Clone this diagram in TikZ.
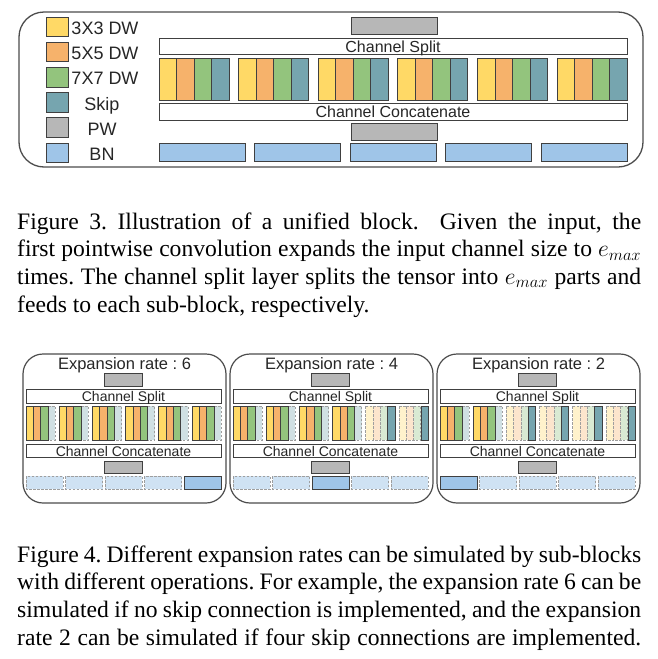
\documentclass[tikz,border=0pt]{standalone}
\usepackage{fix-cm}
\usepackage{fontspec}
\setmainfont{Liberation Serif}
\newfontfamily\arialfont{Liberation Sans}
\usetikzlibrary{positioning}
\frenchspacing

\definecolor{c3}{HTML}{FFD966}
\definecolor{c5}{HTML}{F6B26B}
\definecolor{c7}{HTML}{93C47D}
\definecolor{cskip}{HTML}{76A5AF}
\definecolor{cpw}{HTML}{B7B7B7}
\definecolor{cbn}{HTML}{9FC5E8}
\definecolor{g3}{HTML}{FFF2CC}
\definecolor{g5}{HTML}{FCE5CD}
\definecolor{g7}{HTML}{D9EAD3}
\definecolor{gskip}{HTML}{D0E0E3}
\definecolor{gbn}{HTML}{CFE2F3}
\definecolor{inkgray}{HTML}{262626}

\begin{document}
\begin{tikzpicture}
		[x=1pt,y=-1pt,
		cell/.style={draw=black!75,line width=0.8pt},
		ghost/.style={draw=black!38,dash pattern=on 2.5pt off 1.5pt,line width=0.9pt},
		frame/.style={draw=black!70,line width=1.3pt},
		legtext/.style={inner sep=0pt,text=inkgray,font=\arialfont\fontsize{18}{18}\selectfont},
		bartext/.style={inner sep=0pt,text=inkgray,font=\arialfont\fontsize{16}{16}\selectfont},
		titletext/.style={inner sep=0pt,text=inkgray,font=\arialfont\fontsize{16.5}{16.5}\selectfont},
		smalltext/.style={inner sep=0pt,text=inkgray,font=\arialfont\fontsize{14}{14}\selectfont},
		captext/.style={inner sep=0pt,anchor=base west,font=\fontsize{23.6}{27.7}\selectfont}]
		\useasboundingbox (0,0) rectangle (658,659);

		% the unified block
		\draw [frame,rounded corners=25pt] (19,12) rectangle (643,167);

		% legend
		\foreach \col/\txt/\tx [count=\i from 0] in {c3/3X3 DW/105, c5/5X5 DW/105, c7/7X7 DW/105, cskip/Skip/102, cpw/PW/102, cbn/BN/102} {
			\draw [cell,fill=\col] (46,17+\i*25.2) rectangle ++(22,19.5);
			\node [legtext,anchor=base] (leg\i) at (\tx,34.5+\i*25.2) {\txt};
		}

		% pointwise, split and concatenate
		\draw [cell,fill=cpw] (351,17) rectangle (437,34);
		\draw [cell,fill=white] (159,38) rectangle (627,54);
		\node [bartext,anchor=base] (split) at (393,52.5) {Channel Split};
		\foreach \g in {0,...,5} {
			\foreach \col [count=\k from 0] in {c3,c5,c7,cskip}
				\draw [cell,fill=\col] (159+\g*79.6+\k*17.5,58) rectangle ++(17.5,42);
		}
		\draw [cell,fill=white] (159,103) rectangle (627,120);
		\node [bartext,anchor=base] (concat) at (393,117.3) {Channel Concatenate};
		\draw [cell,fill=cpw] (351,123) rectangle (437,140);
		\foreach \i in {0,...,4}
			\draw [cell,fill=cbn] (159+\i*95.5,143) rectangle ++(86,18);

		% caption of figure 3
		\node [captext] (cap3a) at (17,229) {\makebox[624pt][s]{Figure 3. Illustration of a unified block.\ \ Given the input, the}};
		\node [captext] (cap3b) at (17,256.7) {\makebox[624pt][s]{first pointwise convolution expands the input channel size to $e_{max}$}};
		\node [captext] (cap3c) at (17,284.4) {\makebox[624pt][s]{times. The channel split layer splits the tensor into $e_{max}$ parts and}};
		\node [captext] (cap3d) at (17,312.1) {feeds to each sub-block, respectively.};

		% the three expansion rates
		\foreach \px/\rate/\nfull/\bn in {23/6/6/4, 230/4/4/2, 437/2/2/0} {
			\draw [frame,line width=1.2pt,rounded corners=20pt] (\px,354) rectangle ++(203,149);
			\node [titletext,anchor=base] (title\rate) at (\px+101.5,369) {Expansion rate : \rate};
			\draw [cell,fill=cpw] (\px+81,373) rectangle ++(38,13);
			\draw [cell,fill=white] (\px+3,389) rectangle ++(195,14);
			\node [smalltext,anchor=base] (split\rate) at (\px+100.5,401.5) {Channel Split};
			\foreach \g in {0,...,5} {
				\pgfmathsetmacro\gx{\px+3+\g*33.2}
				\ifnum\g<\nfull\relax
					\draw [ghost,fill=gskip] (\gx+21.9,406) rectangle ++(7.3,34);
					\foreach \col [count=\k from 0] in {c3,c5,c7}
						\draw [cell,fill=\col] (\gx+\k*7.3,406) rectangle ++(7.3,34);
				\else
					\foreach \col [count=\k from 0] in {g3,g5,g7}
						\draw [ghost,fill=\col] (\gx+\k*7.3,406) rectangle ++(7.3,34);
					\draw [cell,fill=cskip] (\gx+21.9,406) rectangle ++(7.3,34);
				\fi
			}
			\draw [cell,fill=white] (\px+3,444) rectangle ++(195,13);
			\node [smalltext,anchor=base] (concat\rate) at (\px+100.5,456) {Channel Concatenate};
			\draw [cell,fill=cpw] (\px+81,461) rectangle ++(38,12);
			\foreach \i in {0,...,4} {
				\ifnum\i=\bn\relax
					\draw [cell,fill=cbn] (\px+3+\i*39.5,476) rectangle ++(37,13);
				\else
					\draw [ghost,fill=gbn] (\px+3+\i*39.5,476) rectangle ++(37,13);
				\fi
			}
		}

		% caption of figure 4
		\node [captext] (cap4a) at (17,562) {\makebox[624pt][s]{Figure 4. Different expansion rates can be simulated by sub-blocks}};
		\node [captext] (cap4b) at (17,589.7) {\makebox[624pt][s]{with different operations. For example, the expansion rate 6 can be}};
		\node [captext] (cap4c) at (17,617.4) {\makebox[624pt][s]{simulated if no skip connection is implemented, and the expansion}};
		\node [captext] (cap4d) at (17,645.1) {\makebox[624pt][s]{rate 2 can be simulated if four skip connections are implemented.}};
	\end{tikzpicture}
\end{document}
